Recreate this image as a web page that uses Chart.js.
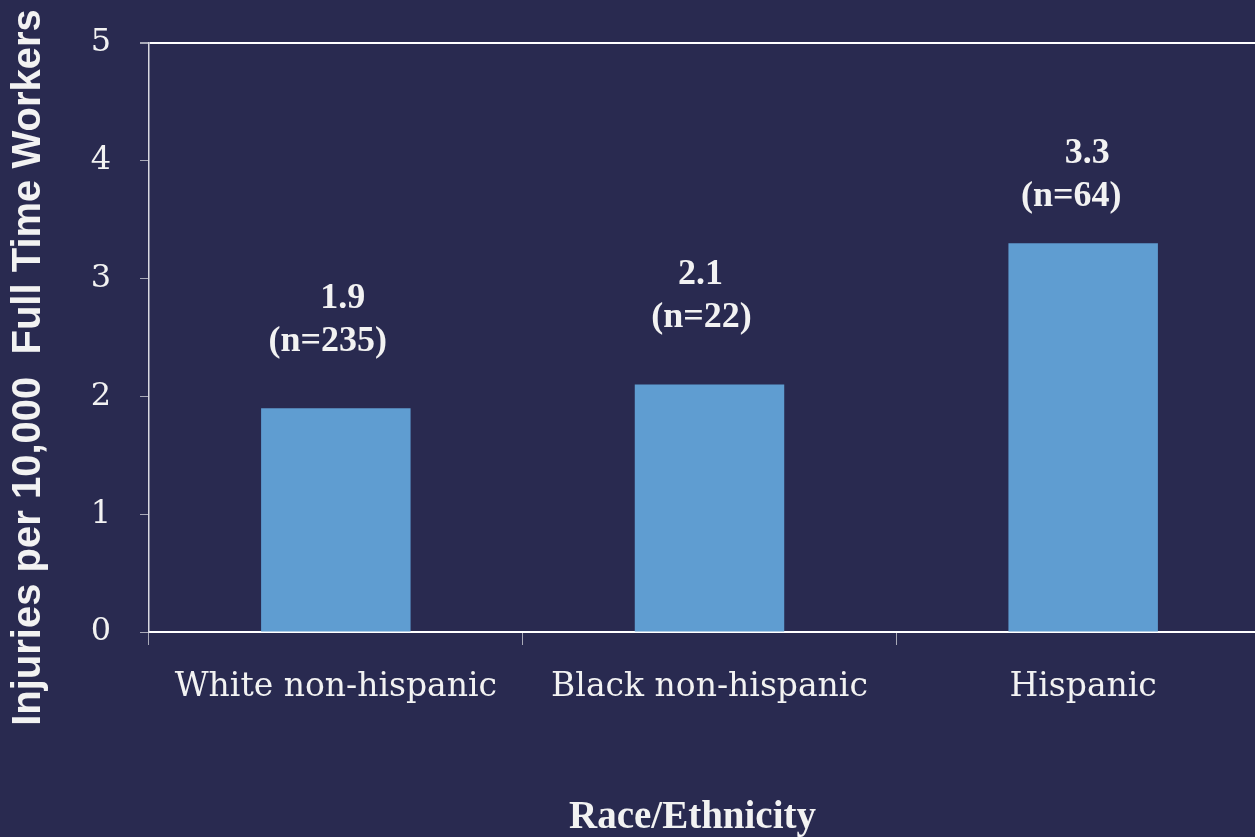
<!DOCTYPE html>
<html>
<head>
<meta charset="utf-8">
<script src="https://cdn.jsdelivr.net/npm/chart.js@4.4.0/dist/chart.umd.min.js"></script>
<style>
  html, body { margin: 0; padding: 0; overflow: hidden; }
  body { width: 1255px; height: 837px; background: #292a50; }
  #wrap { position: relative; width: 1270px; height: 837px; }
</style>
</head>
<body>
<div id="wrap"><canvas id="chart" width="1270" height="837"></canvas></div>
<script>
// injury rates by race/ethnicity
const categories = ['White non-hispanic', 'Black non-hispanic', 'Hispanic'];
const rates = [1.9, 2.1, 3.3];
const sampleSizes = [235, 22, 64];
const yTicks = [0, 1, 2, 3, 4, 5];

const yTitle = 'Injuries per 10,000  Full Time Workers';
const xTitle = 'Race/Ethnicity';

const textColor = '#f2f2f2';
const barColor = '#5f9dd1';

// two-line labels above each bar: value and (n=..)
const barLabels = {
    id: 'barLabels',
    afterDatasetsDraw(chart, args, opts) {
        const ctx = chart.ctx;
        const meta = chart.getDatasetMeta(0);
        ctx.save();
        ctx.fillStyle = textColor;
        ctx.font = 'bold 36px "Liberation Serif", serif';
        ctx.textAlign = 'center';
        ctx.textBaseline = 'middle';
        meta.data.forEach((bar, i) => {
            const lift = opts.lift[i];
            ctx.fillText(rates[i].toFixed(1), bar.x + opts.dx1[i], bar.y - lift - opts.gap);
            ctx.fillText('(n=' + sampleSizes[i] + ')', bar.x + opts.dx2[i], bar.y - lift);
        });
        ctx.restore();
    },
};

// axis titles: the slide puts them a bit off the plot centre, so draw them by hand
const axisTitles = {
    id: 'axisTitles',
    afterDraw(chart) {
        const ctx = chart.ctx;
        const area = chart.chartArea;
        ctx.save();
        ctx.fillStyle = textColor;
        ctx.textAlign = 'center';
        ctx.textBaseline = 'middle';

        ctx.font = 'bold 39px "Liberation Serif", serif';
        ctx.fillText(xTitle, (area.left + area.right) / 2 - 17, area.bottom + 186);

        ctx.translate(area.left - 120, (area.top + area.bottom) / 2 + 30);
        ctx.rotate(-Math.PI / 2);
        ctx.font = 'bold 40px "Liberation Sans", Arial, sans-serif';
        ctx.fillText(yTitle, 0, 0);
        ctx.restore();
    },
};

new Chart(document.getElementById('chart'), {
    type: 'bar',
    data: {
        labels: categories,
        datasets: [{
            data: rates,
            backgroundColor: barColor,
            borderWidth: 0,
            barPercentage: 0.5,
            categoryPercentage: 0.8,
        }],
    },
    options: {
        responsive: false,
        animation: false,
        layout: { padding: { top: 43, left: 0, right: 0, bottom: 0 } },
        plugins: {
            legend: { display: false },
            tooltip: { enabled: false },
            barLabels: {
                lift: [66, 67, 47],
                gap: 43,
                dx1: [7, -9, 4],
                dx2: [-8, -8, -12],
            },
        },
        scales: {
            x: {
                afterFit: (s) => {
                    s.height = 205;
                    s.paddingLeft = 0;
                    s.paddingRight = 0;
                },
                ticks: {
                    color: textColor,
                    font: { family: "'DejaVu Serif', serif", size: 33 },
                    padding: 23,
                    maxRotation: 0,
                    autoSkip: false,
                },
                grid: {
                    drawOnChartArea: false,
                    offset: true,
                    tickLength: 13,
                    tickColor: '#a9aab8',
                },
                border: { color: '#ffffff', width: 2 },
            },
            y: {
                min: 0,
                max: 5,
                afterFit: (s) => {
                    s.width = 149;
                    s.paddingTop = 0;
                    s.paddingBottom = 0;
                },
                afterBuildTicks: (s) => { s.ticks = yTicks.map(v => ({ value: v })); },
                ticks: {
                    color: textColor,
                    font: { family: "'DejaVu Serif', serif", size: 32 },
                    padding: 29,
                },
                grid: {
                    color: (c) => c.tick && c.tick.value === 5 ? '#ffffff' : 'rgba(0,0,0,0)',
                    lineWidth: (c) => c.tick && c.tick.value === 5 ? 2 : 1,
                    tickColor: '#a9aab8',
                    tickLength: 9,
                },
                border: { color: '#d8d8e0', width: 1.5 },
            },
        },
    },
    plugins: [barLabels, axisTitles],
});
</script>
</body>
</html>
